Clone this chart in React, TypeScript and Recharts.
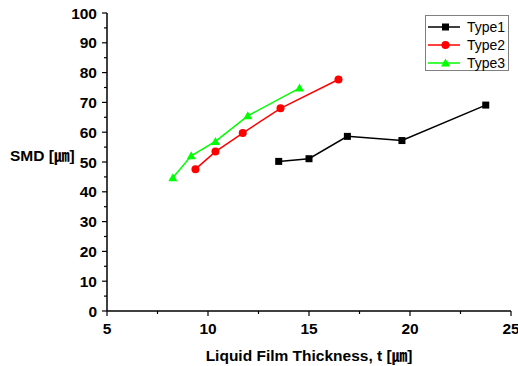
import React from 'react';
import { LineChart, Line, XAxis, YAxis, Legend } from 'recharts';

const type1X = [13.5, 15.0, 16.9, 19.6, 23.75];
const type1Y = [50.2, 51.1, 58.6, 57.2, 69.1];
const type2X = [9.38, 10.37, 11.72, 13.59, 16.46];
const type2Y = [47.6, 53.5, 59.7, 68.0, 77.7];
const type3X = [8.26, 9.17, 10.37, 11.97, 14.53];
const type3Y = [44.7, 52.1, 56.9, 65.5, 74.8];

const xTicks = [5, 7.5, 10, 12.5, 15, 17.5, 20, 22.5, 25];
const yTicks = [0, 5, 10, 15, 20, 25, 30, 35, 40, 45, 50, 55, 60, 65, 70, 75, 80, 85, 90, 95, 100];
const xMajor = [5, 10, 15, 20, 25];
const seriesNames = ['Type1', 'Type2', 'Type3'];
const seriesColors = ['#000000', '#ff0000', '#00ff00'];

const toPoints = (xs: number[], ys: number[]) => xs.map((x, i) => ({ x, y: ys[i] }));
const data1 = toPoints(type1X, type1Y);
const data2 = toPoints(type2X, type2Y);
const data3 = toPoints(type3X, type3Y);

const FONT = '"Liberation Sans", Arial, "Noto Sans CJK JP", sans-serif';

const Marker = ({ kind, cx, cy, color }: any) => {
  if (cx == null || cy == null) return null;
  if (kind === 0) return <rect x={cx - 3.5} y={cy - 3.5} width={7} height={7} fill={color} />;
  if (kind === 1) return <circle cx={cx} cy={cy} r={4} fill={color} />;
  return <polygon points={`${cx},${cy - 4.5} ${cx + 4.5},${cy + 3.5} ${cx - 4.5},${cy + 3.5}`} fill={color} />;
};

const XTick = (props: any) => {
  const { x, y, payload } = props;
  const major = xMajor.includes(payload.value);
  return (
    <g>
      <line x1={x} y1={y} x2={x} y2={y + (major ? 5 : 3)} stroke="#000" strokeWidth={1.2} />
      {major && (
        <text x={x} y={y + 23} textAnchor="middle" fontFamily={FONT} fontWeight="bold" fontSize={15.5} fill="#000">
          {payload.value}
        </text>
      )}
    </g>
  );
};

const YTick = (props: any) => {
  const { x, y, payload } = props;
  const major = payload.value % 10 === 0;
  return (
    <g>
      <line x1={x} y1={y} x2={x - (major ? 5 : 3)} y2={y} stroke="#000" strokeWidth={1.2} />
      {major && (
        <text x={x - 10} y={y} dy="0.36em" textAnchor="end" fontFamily={FONT} fontWeight="bold" fontSize={15.5} fill="#000">
          {payload.value}
        </text>
      )}
    </g>
  );
};

const LegendContent = () => (
  <div
    style={{
      width: 84,
      height: 56,
      border: '1px solid #808080',
      boxSizing: 'border-box',
      background: '#fff',
      position: 'relative',
      fontFamily: FONT,
    }}
  >
    {seriesNames.map((name, i) => (
      <div key={name} style={{ position: 'absolute', left: 0, top: 2 + i * 17.8, height: 18, width: 84 }}>
        <svg width={38} height={18} style={{ position: 'absolute', left: 0, top: 0 }}>
          <line x1={2} y1={9} x2={34} y2={9} stroke={seriesColors[i]} strokeWidth={1.5} />
          <Marker kind={i} cx={19.5} cy={9} color={seriesColors[i]} />
        </svg>
        <span style={{ position: 'absolute', left: 41, top: 0, lineHeight: '18px', fontSize: 14, color: '#000' }}>{name}</span>
      </div>
    ))}
  </div>
);

export default function App() {
  return (
    <div style={{ position: 'absolute', left: 0, top: 0, background: '#fff' }}>
      <LineChart width={518} height={366} margin={{ top: 13, right: 7, bottom: 0, left: 0 }}>
        <XAxis
          type="number"
          dataKey="x"
          domain={[5, 25]}
          ticks={xTicks}
          interval={0}
          allowDataOverflow
          height={55}
          tickSize={0}
          tickMargin={0}
          tickLine={false}
          axisLine={{ stroke: '#000', strokeWidth: 1.5 }}
          tick={<XTick />}
          label={{
            value: 'Liquid Film Thickness, t [㎛]',
            position: 'insideBottom',
            offset: 5,
            style: { fontFamily: FONT, fontWeight: 'bold', fontSize: 15.5, fill: '#000' },
          }}
        />
        <YAxis
          type="number"
          dataKey="y"
          domain={[0, 100]}
          ticks={yTicks}
          interval={0}
          width={107}
          tickSize={0}
          tickMargin={0}
          tickLine={false}
          axisLine={{ stroke: '#000', strokeWidth: 1.5 }}
          tick={<YTick />}
          label={{
            content: (p: any) => (
              <text
                x={p.viewBox.x + 10}
                y={p.viewBox.y + p.viewBox.height / 2 - 7}
                dy="0.36em"
                fontFamily={FONT}
                fontWeight="bold"
                fontSize={15.5}
                fill="#000"
              >
                SMD [㎛]
              </text>
            ),
          }}
        />
        <Legend
          layout="horizontal"
          verticalAlign="middle"
          align="center"
          content={<LegendContent />}
          wrapperStyle={{ position: 'absolute', left: 425, top: 15, width: 84, height: 56 }}
        />
        <Line
          data={data1}
          dataKey="y"
          name={seriesNames[0]}
          stroke={seriesColors[0]}
          strokeWidth={1.5}
          isAnimationActive={false}
          dot={(p: any) => <Marker key={`a${p.index}`} kind={0} cx={p.cx} cy={p.cy} color={seriesColors[0]} />}
        />
        <Line
          data={data2}
          dataKey="y"
          name={seriesNames[1]}
          stroke={seriesColors[1]}
          strokeWidth={1.5}
          isAnimationActive={false}
          dot={(p: any) => <Marker key={`b${p.index}`} kind={1} cx={p.cx} cy={p.cy} color={seriesColors[1]} />}
        />
        <Line
          data={data3}
          dataKey="y"
          name={seriesNames[2]}
          stroke={seriesColors[2]}
          strokeWidth={1.5}
          isAnimationActive={false}
          dot={(p: any) => <Marker key={`c${p.index}`} kind={2} cx={p.cx} cy={p.cy} color={seriesColors[2]} />}
        />
      </LineChart>
    </div>
  );
}
